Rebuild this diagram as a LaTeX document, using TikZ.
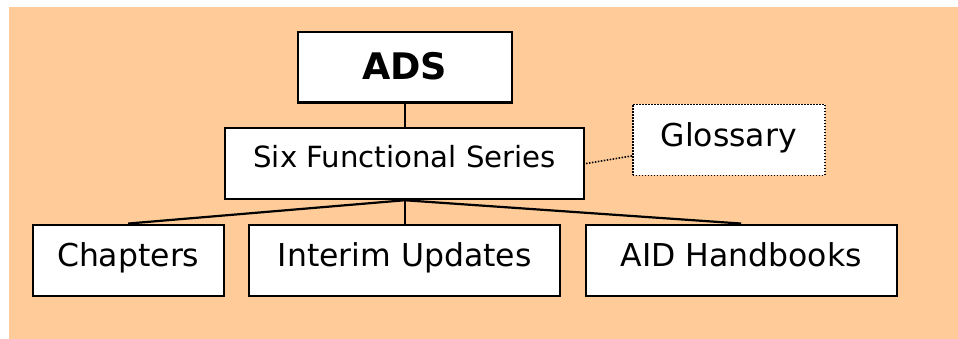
\documentclass[tikz,border=0pt]{standalone}
\usepackage{fontspec}
\setmainfont{DejaVu Sans}
\usetikzlibrary{positioning}
\definecolor{peach}{HTML}{FFCC99}

\begin{document}
\begin{tikzpicture}[
    x=1pt, y=1pt,
    every edge/.style={draw, line width=2.2pt},
    dots/.style={line width=1.6pt, dash pattern=on 1.5pt off 1.5pt},
    every node/.style={draw, line width=2.2pt, fill=white, inner sep=0pt,
minimum height=71pt, text height=23pt, text depth=9.5pt,
font=\fontsize{31.5}{36}\selectfont}]

    \useasboundingbox (0,0) rectangle (958,-339);
    \fill[peach] (9,-7) rectangle (958,-339);

    \node [minimum width=214pt, minimum height=70.5pt, text height=27pt, text depth=3pt,
font=\fontsize{36.6}{42}\selectfont\bfseries] (ads) at (404.7,-67.2) {ADS};
    \node [minimum width=359pt, text height=21pt, text depth=13.5pt,
font=\fontsize{29.2}{34}\selectfont, below=23.5pt of ads] (six) {Six Functional Series} edge (ads);
        \node [minimum width=192pt, dots, right=46.6pt of six, yshift=23.8pt] (gloss) {Glossary}
edge [dots] (six.east);
        \node [minimum width=311pt, below=23.3pt of six] (interim) {Interim Updates};
        \node [minimum width=191pt, left=23.3pt of interim] (chap) {Chapters};
        \node [minimum width=311pt, right=23.3pt of interim] (aid) {AID Handbooks};

    \path (six.south) edge (chap.north)
                      edge (interim.north)
                      edge (aid.north);

\end{tikzpicture}
\end{document}
